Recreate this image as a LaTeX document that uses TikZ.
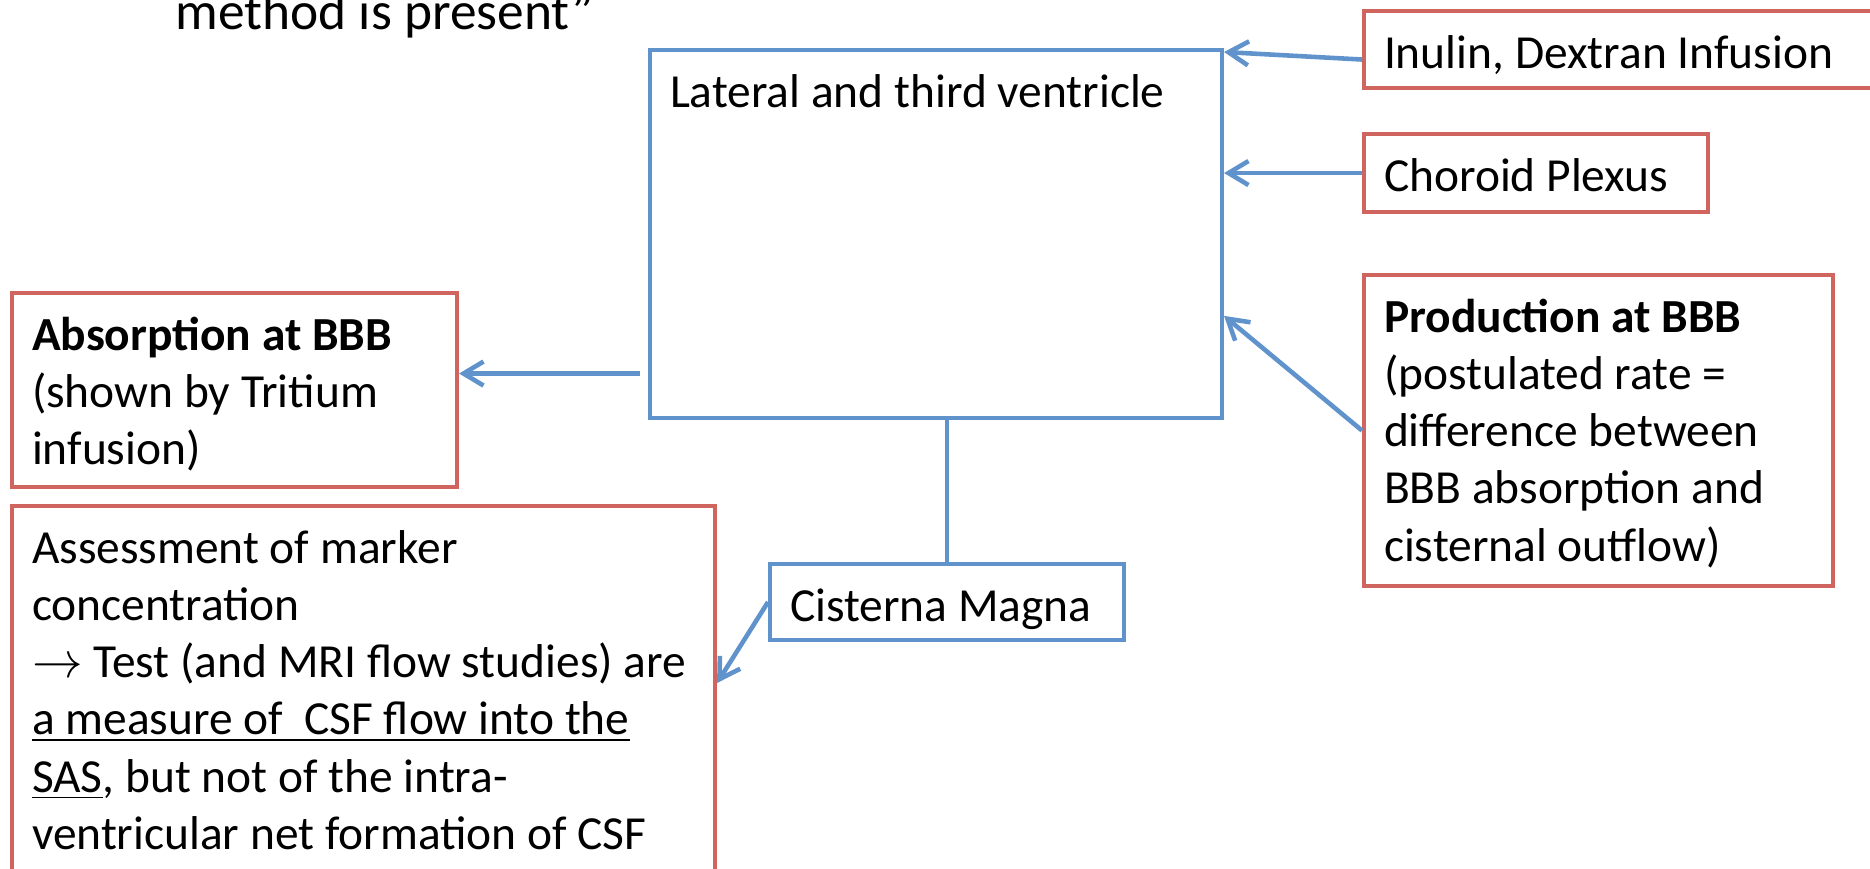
\documentclass[tikz,border=0pt]{standalone}
\usepackage{fontspec}
\setmainfont{Carlito}
\usepackage{tikz}
\usetikzlibrary{arrows.meta, positioning, calc}
\definecolor{boxred}{RGB}{208, 101, 95}
\definecolor{boxblue}{RGB}{96, 147, 204}

\begin{document}
\begin{tikzpicture}[
    box/.style={rectangle, draw, line width=1.15pt, anchor=north west, align=flush left, inner xsep=0.2cm, inner ysep=0pt, text height=0.57cm, font=\fontsize{13.5pt}{16.3pt}\selectfont},
    redbox/.style={box, draw=boxred},
    bluebox/.style={box, draw=boxblue},
    arrow/.style={-{Straight Barb[length=2mm, width=2.4mm]}, line width=1.3pt, draw=boxblue},
    link/.style={line width=1.3pt, draw=boxblue}
]
    \useasboundingbox (0, 0) rectangle (18.7, -8.68);

    % Heading left over from the slide
    \node[anchor=base west, inner sep=0pt, font=\fontsize{15.2pt}{18pt}\selectfont] (quote) at (1.75, -0.29) {method is present”};

    % Main boxes
    \node[bluebox, text width=5.32cm, text depth=3.11cm] (vent) at (6.48, -0.48) {Lateral and third ventricle};
    \node[redbox, text width=5.0cm, text depth=0.20cm] (inulin) at (13.62, -0.09) {Inulin, Dextran Infusion};
    \node[redbox, text width=3.04cm, text depth=0.21cm] (choroid) at (13.62, -1.32) {Choroid Plexus};
    \node[redbox, text width=4.29cm, text depth=2.54cm] (prod) at (13.62, -2.73) {\textbf{Production at BBB}\\(postulated rate =\\difference between\\BBB absorption and\\cisternal outflow)};
    \node[redbox, text width=4.05cm, text depth=1.37cm] (absorb) at (0.10, -2.91) {\textbf{Absorption at BBB}\\(shown by Tritium\\infusion)};
    \node[redbox, text width=6.63cm, text depth=3.33cm] (assess) at (0.10, -5.04) {Assessment of marker\\concentration\\$\rightarrow$ Test (and MRI flow studies) are\\\underline{a measure of\ \ CSF flow into the}\\\underline{SAS}, but not of the intra-\\ventricular net formation of CSF};
    \node[bluebox, text width=3.14cm, text depth=0.19cm] (cist) at (7.68, -5.62) {Cisterna Magna};

    % Arrows
    \coordinate (ventleft) at ($(vent.north west)!0.875!(vent.south west)$);
    \draw[arrow] ([yshift=-1mm]inulin.west) -- ([yshift=-0.4mm]vent.north east);
    \draw[arrow] (choroid.west) -- (choroid.west -| vent.east);
    \draw[arrow] (prod.west) -- ($(vent.north east)!0.72!(vent.south east)$);
    \draw[arrow] ([xshift=-0.8mm]ventleft) -- (ventleft -| absorb.east);
    \draw[link] (cist.north) -- (cist.north |- vent.south);
    \draw[arrow] (cist.west) -- ([yshift=-1.79cm]assess.north east);

\end{tikzpicture}
\end{document}
